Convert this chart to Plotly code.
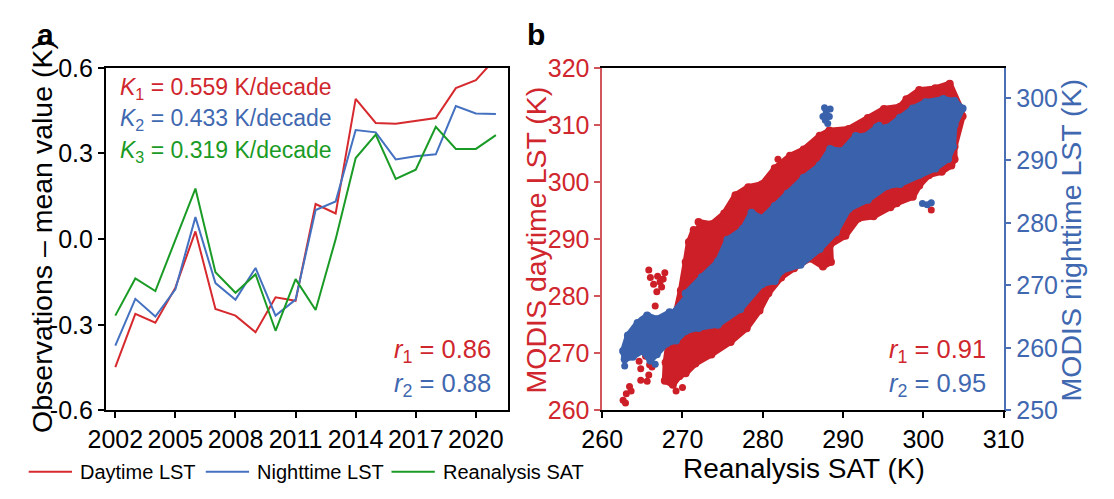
import plotly.graph_objects as go

# ---------------- panel a: yearly anomalies ----------------
years = list(range(2002, 2022))
day_lst = [-0.448, -0.262, -0.293, -0.170, 0.027, -0.245, -0.268, -0.326, -0.204, -0.216,
           0.123, 0.090, 0.491, 0.407, 0.404, 0.413, 0.424, 0.529, 0.557, 0.634]
night_lst = [-0.373, -0.209, -0.271, -0.176, 0.077, -0.154, -0.212, -0.101, -0.268, -0.212,
             0.102, 0.132, 0.382, 0.374, 0.279, 0.290, 0.297, 0.466, 0.440, 0.438]
sat_anom = [-0.268, -0.138, -0.182, 0.000, 0.177, -0.116, -0.188, -0.123, -0.321, -0.140,
            -0.248, 0.000, 0.284, 0.366, 0.211, 0.243, 0.393, 0.316, 0.316, 0.364]

year_ticks = [2002, 2005, 2008, 2011, 2014, 2017, 2020]
anom_ticks = [-0.6, -0.3, 0.0, 0.3, 0.6]
anom_labels = ["-0.6", "-0.3", "0.0", "0.3", "0.6"]

series_names = ["Daytime LST", "Nighttime LST", "Reanalysis SAT"]
trend_labels = ["0.559", "0.433", "0.319"]
r_a = ["0.86", "0.88"]

# ---------------- panel b: LST vs SAT ----------------
# outline of the dense daytime cloud (SAT, daytime LST)
red_edge_sat = [271.4, 270.8, 270.4, 269.8, 269.0, 268.2, 267.9, 267.8, 268.8, 269.6,
                270.4, 271.6, 273.6, 276.0, 278.0, 279.6, 280.7, 282.3, 283.9, 285.9,
                287.5, 288.5, 288.4, 290.3, 291.9, 293.8, 295.9, 296.7, 298.7, 299.5,
                300.7, 302.3, 303.5, 303.9, 303.9, 304.9, 304.7, 303.3, 301.5, 299.5,
                297.9, 297.1, 295.1, 293.1, 290.7, 288.3, 287.1, 285.1, 283.4, 281.5,
                279.9, 278.2, 276.6, 275.2, 273.6, 272.0]
red_edge_lst = [291.6, 289.5, 286.0, 281.0, 276.0, 271.4, 268.4, 265.2, 264.5, 266.0,
                266.5, 268.2, 269.8, 272.0, 274.4, 277.5, 280.5, 283.3, 284.9, 286.6,
                285.2, 286.0, 289.0, 290.6, 293.6, 294.0, 295.6, 296.3, 297.4, 299.4,
                301.2, 301.8, 302.9, 304.0, 306.2, 311.5, 312.8, 317.2, 316.4, 316.1,
                314.5, 313.2, 312.8, 311.2, 309.3, 309.0, 308.1, 305.7, 304.6, 302.4,
                299.6, 299.1, 297.7, 294.5, 292.6, 293.0]
# scattered daytime points away from the main cloud
red_pts_sat = [265.8, 267.8, 266.0, 267.6, 266.9, 266.4, 267.4, 266.8, 266.6, 267.2,
               262.6, 263.0, 263.4, 263.6, 262.9,
               264.6, 265.4, 264.8, 265.8, 264.8, 266.2, 265.6, 265.0, 265.9,
               269.2, 270.0, 281.9, 276.6, 301.0]
red_pts_lst = [284.6, 284.1, 283.3, 283.0, 283.5, 282.1, 281.6, 280.8, 278.3, 282.5,
               261.8, 262.9, 264.2, 263.4, 261.3,
               268.6, 269.5, 267.3, 266.2, 265.3, 267.6, 265.1, 270.5, 268.0,
               263.4, 264.0, 304.0, 297.7, 295.1]

# outline of the dense nighttime cloud (SAT, nighttime LST)
blue_edge_sat = [268.4, 266.8, 265.6, 264.4, 263.2, 262.6, 262.8, 263.8, 265.0, 266.0,
                 266.8, 268.0, 269.2, 270.4, 272.0, 274.4, 277.2, 279.9, 281.5, 282.3,
                 284.7, 287.1, 289.1, 290.7, 293.1, 295.5, 297.1, 299.5, 301.5, 303.1,
                 303.7, 303.9, 304.9, 303.9, 302.5, 300.3, 298.7, 297.1, 295.5, 294.2,
                 292.7, 291.6, 289.9, 288.4, 287.1, 285.1, 283.1, 281.5, 279.9, 278.6,
                 277.5, 275.6, 274.4, 272.4, 270.4]
blue_edge_lst = [265.7, 264.6, 265.2, 264.0, 262.0, 259.5, 258.2, 258.6, 259.5, 258.0,
                 259.0, 260.7, 261.2, 262.7, 263.2, 263.7, 266.2, 270.2, 270.7, 272.3,
                 273.3, 275.8, 278.5, 282.2, 283.7, 285.9, 286.2, 287.7, 288.7, 290.2,
                 292.2, 295.7, 298.3, 299.5, 299.8, 299.3, 298.3, 296.8, 295.2, 295.3,
                 293.8, 293.9, 291.5, 291.8, 289.2, 287.2, 284.7, 282.7, 280.7, 281.6,
                 279.0, 277.3, 273.8, 271.3, 268.7]
# scattered nighttime points away from the main cloud
blue_pts_sat = [287.7, 288.4, 287.9, 288.3, 287.8, 288.1, 287.5,
                299.9, 300.5, 301.0, 294.5, 262.8, 266.6, 265.0, 266.4]
blue_pts_lst = [298.4, 298.2, 297.6, 297.0, 296.4, 295.9, 297.0,
                283.1, 282.9, 283.2, 295.6, 257.1, 257.4, 264.5, 264.2]
r_b = ["0.91", "0.95"]

sat_ticks = [260, 270, 280, 290, 300, 310]
day_ticks = [260, 270, 280, 290, 300, 310, 320]
night_ticks = [250, 260, 270, 280, 290, 300]

RED = "#CD1F27"
BLUE = "#3A62AC"
GREEN = "#1A9B25"
TXT_RED = "#D0262D"
TXT_BLUE = "#3F68B0"
AX_RED = "#D0565B"
AX_BLUE = "#4A6FB5"
LINE_RED = "#D62A2F"
LINE_BLUE = "#4471C0"
FONT = "Liberation Sans, Arial, sans-serif"

fig = go.Figure()

for vals, name, col in zip([day_lst, night_lst, sat_anom], series_names,
                           [LINE_RED, LINE_BLUE, GREEN]):
    fig.add_trace(go.Scatter(x=years, y=vals, mode="lines", name=name,
                             line=dict(color=col, width=2), showlegend=False,
                             xaxis="x", yaxis="y"))

fig.add_trace(go.Scatter(x=red_edge_sat, y=red_edge_lst, mode="lines+markers",
                         fill="toself", fillcolor=RED,
                         line=dict(color=RED, width=6), marker=dict(color=RED, size=8),
                         showlegend=False, xaxis="x2", yaxis="y2", hoverinfo="skip"))
fig.add_trace(go.Scatter(x=red_pts_sat, y=red_pts_lst, mode="markers",
                         marker=dict(color=RED, size=7),
                         showlegend=False, xaxis="x2", yaxis="y2"))
fig.add_trace(go.Scatter(x=blue_edge_sat, y=blue_edge_lst, mode="lines+markers",
                         fill="toself", fillcolor=BLUE,
                         line=dict(color=BLUE, width=6), marker=dict(color=BLUE, size=8),
                         showlegend=False, xaxis="x2", yaxis="y3", hoverinfo="skip"))
fig.add_trace(go.Scatter(x=blue_pts_sat, y=blue_pts_lst, mode="markers",
                         marker=dict(color=BLUE, size=7),
                         showlegend=False, xaxis="x2", yaxis="y3"))

W, H = 1114, 499
dom_a = [88 / W, 506 / W]
dom_b = [604 / W, 1021 / W]
dom_y = [79 / H, 442 / H]

TICK = 25
axis_common = dict(showgrid=False, zeroline=False, ticks="outside", ticklen=6,
                   tickwidth=1.5, linewidth=1.5)

fig.update_layout(
    width=W, height=H, autosize=False,
    margin=dict(l=0, r=0, t=0, b=0),
    paper_bgcolor="white", plot_bgcolor="white",
    font=dict(family=FONT, color="black"),
    xaxis=dict(domain=dom_a, anchor="y", range=[2001.52, 2021.6], tickvals=year_ticks,
               linecolor="black", tickcolor="black", mirror=True,
               tickfont=dict(size=TICK, color="black"), **axis_common),
    yaxis=dict(domain=dom_y, anchor="x", range=[-0.6, 0.6], tickvals=anom_ticks,
               ticktext=anom_labels, linecolor="black", tickcolor="black", mirror=True,
               tickfont=dict(size=TICK, color="black"), **axis_common),
    xaxis2=dict(domain=dom_b, anchor="y2", range=[260, 310], tickvals=sat_ticks,
                linecolor="black", tickcolor="black", mirror=True,
                tickfont=dict(size=TICK, color="black"), **axis_common),
    yaxis2=dict(domain=dom_y, anchor="x2", range=[260, 320], tickvals=day_ticks,
                linecolor=AX_RED, tickcolor=AX_RED,
                tickfont=dict(size=TICK, color=TXT_RED), **axis_common),
    yaxis3=dict(overlaying="y2", anchor="x2", side="right", range=[250, 304.8],
                tickvals=night_ticks, linecolor=AX_BLUE, tickcolor=AX_BLUE,
                tickfont=dict(size=TICK, color=TXT_BLUE), **axis_common),
)

ann = []
# panel letters and axis titles placed in paper space
paper_texts = [
    ("<b>a</b>", 25, 22, 0, 30, "black"),
    ("<b>b</b>", 535, 22, 0, 30, "black"),
    ("Observations – mean value (K)", 22, 236, -90, 28.5, "black"),
    ("MODIS daytime LST (K)", 535, 239, -90, 28.5, TXT_RED),
    ("MODIS nighttime LST (K)", 1091, 239, -90, 28.5, TXT_BLUE),
    ("Reanalysis SAT (K)", 814, 482, 0, 28, "black"),
]
for text, px, py, ang, size, col in paper_texts:
    ann.append(dict(text=text, x=px / W, y=1 - py / H, textangle=ang,
                    xref="paper", yref="paper", showarrow=False,
                    xanchor="center", yanchor="middle", font=dict(size=size, color=col)))

# trend labels in panel a
for i, (val, col, yy) in enumerate(zip(trend_labels, [TXT_RED, TXT_BLUE, GREEN],
                                       [0.939, 0.848, 0.755])):
    ann.append(dict(text=f"<i>K</i><sub>{i + 1}</sub> = {val} K/decade", x=0.031, y=yy,
                    xref="x domain", yref="y domain", xanchor="left", yanchor="middle",
                    showarrow=False, font=dict(size=23, color=col)))
# correlation labels
for i, (val, col, yy) in enumerate(zip(r_a, [TXT_RED, TXT_BLUE], [0.174, 0.074])):
    ann.append(dict(text=f"<i>r</i><sub>{i + 1}</sub> = {val}", x=0.962, y=yy,
                    xref="x domain", yref="y domain", xanchor="right", yanchor="middle",
                    showarrow=False, font=dict(size=25.5, color=col)))
for i, (val, col, yy) in enumerate(zip(r_b, [TXT_RED, TXT_BLUE], [0.174, 0.074])):
    ann.append(dict(text=f"<i>r</i><sub>{i + 1}</sub> = {val}", x=0.962, y=yy,
                    xref="x2 domain", yref="y2 domain", xanchor="right", yanchor="middle",
                    showarrow=False, font=dict(size=25.5, color=col)))

# legend row under panel a
shapes = []
leg_y = 1 - 485 / H
for name, col, x0 in zip(series_names, [LINE_RED, LINE_BLUE, GREEN], [8, 192, 385]):
    shapes.append(dict(type="line", xref="paper", yref="paper", x0=x0 / W, x1=(x0 + 45) / W,
                       y0=leg_y, y1=leg_y, line=dict(color=col, width=2)))
    ann.append(dict(text=name, x=(x0 + 51) / W, y=leg_y, xref="paper", yref="paper",
                    xanchor="left", yanchor="middle", showarrow=False,
                    font=dict(size=20, color="black")))

fig.update_layout(annotations=ann, shapes=shapes)
fig.write_html("out.html")
